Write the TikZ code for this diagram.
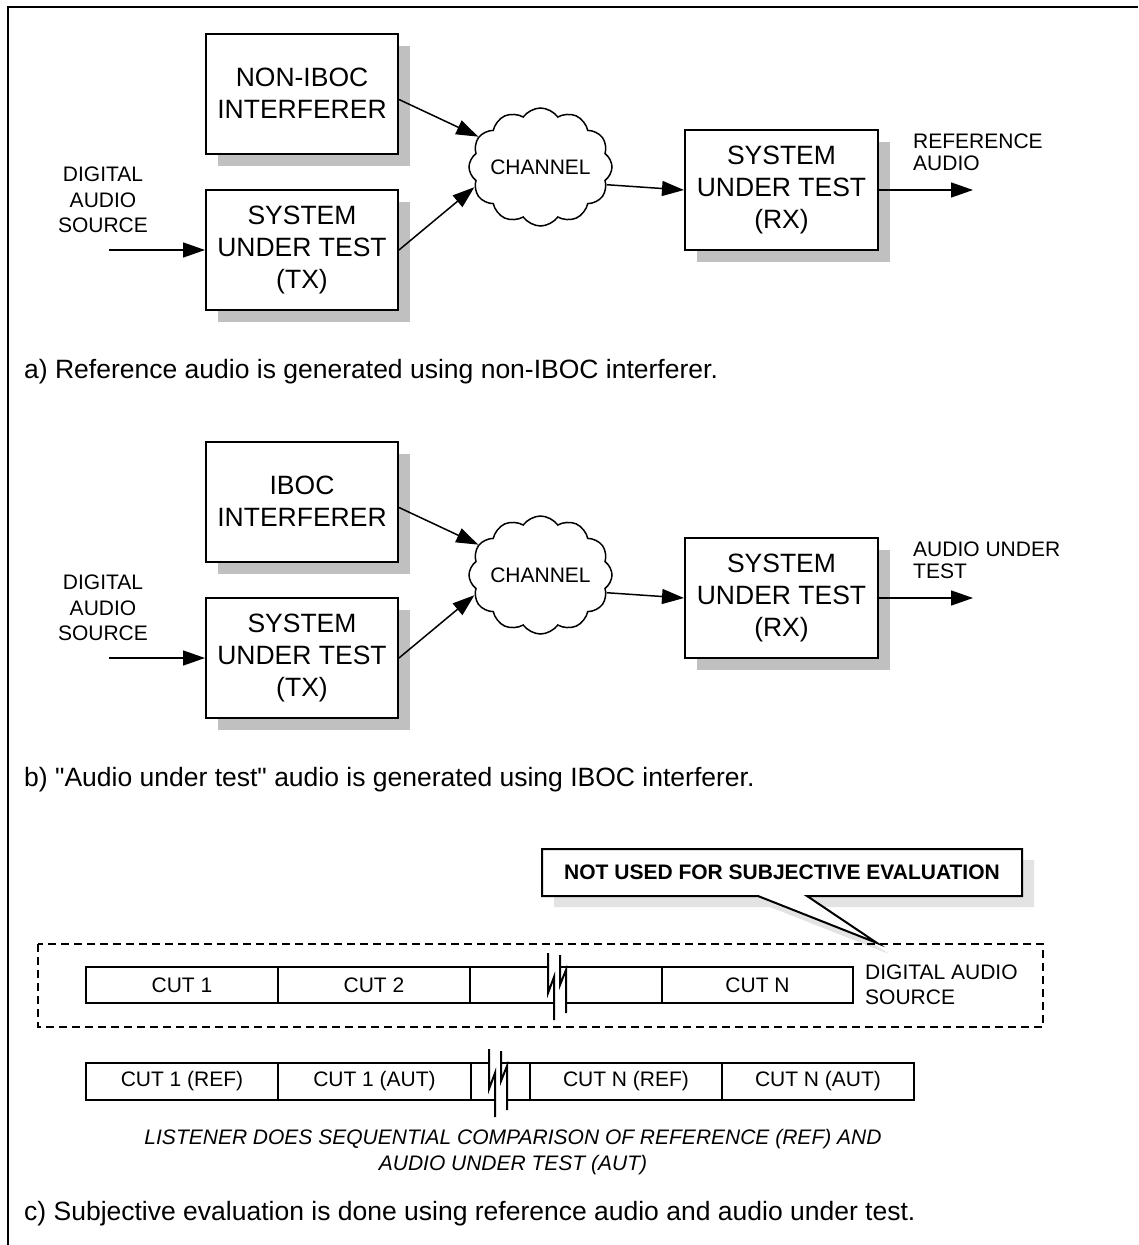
\documentclass[tikz,border=0pt]{standalone}
\usepackage{fontspec}
\setmainfont{Liberation Sans}[Ligatures=TeXOff]
\usetikzlibrary{arrows.meta,shapes.symbols,shadows}
\definecolor{shgray}{HTML}{C0C0C0}
\definecolor{callgray}{HTML}{E3E3E3}
\begin{document}
\begin{tikzpicture}[x=1pt,y=-1pt,
  blk/.style={draw, line width=2pt, fill=white, minimum width=192pt, minimum height=120pt,
    align=center, inner sep=0pt, font=\fontsize{26.5}{32}\selectfont,
    drop shadow={shadow xshift=12pt, shadow yshift=-12pt, fill=shgray, opacity=1}},
  chan/.style={cloud, draw, line width=1.5pt, fill=white, cloud puffs=12, cloud puff arc=110,
    cloud ignores aspect, minimum width=143pt, minimum height=118pt, inner sep=0pt,
    font=\fontsize{21}{25}\selectfont},
  lbl/.style={inner sep=0pt, font=\fontsize{21}{25.5}\selectfont},
  captxt/.style={inner sep=0pt, font=\fontsize{26.5}{30}\selectfont},
  arr/.style={line width=1.5pt, -{Triangle[length=22pt,width=15pt]}},
  cell/.style={draw, line width=2pt, minimum height=36pt, inner sep=0pt, font=\fontsize{21}{25}\selectfont},
  brkline/.style={line width=2pt}
]
\useasboundingbox (0,0) rectangle (1138,1245);
% frame
\draw[line width=2pt] (8,1245) -- (8,7) -- (1138,7);

% ---------- section a ----------
\node[blk] (nonib) at (302,93.5) {NON-IBOC\\INTERFERER};
\node[blk] (txa) at (302,250) {SYSTEM\\UNDER TEST\\(TX)};
\node[chan] (cha) at (540.5,167) {\makebox[0pt]{CHANNEL}};
\node[blk, minimum width=193pt] (rxa) at (781.5,190) {SYSTEM\\UNDER TEST\\(RX)};
\node[lbl, align=center] (srca) at (103,200) {DIGITAL\\AUDIO\\SOURCE};
\coordinate (ina) at (109,250);
\coordinate (outa) at (973,190);
\node[lbl, align=left, anchor=west, font=\fontsize{21}{22}\selectfont] (refa) at (913,152) {REFERENCE\\AUDIO};
\draw[arr] (ina) -- (txa.west);
\draw[arr] ([yshift=-6pt]nonib.east) -- (cha.154);
\draw[arr] (txa.east) -- (cha.197);
\draw[arr] (cha.-15) -- (rxa.west);
\draw[arr] (rxa.east) -- (outa);
\node[captxt, anchor=base west] (capa) at (24,378) {a) Reference audio is generated using non-IBOC interferer.};

% ---------- section b ----------
\node[blk] (ib) at (302,501.5) {IBOC\\INTERFERER};
\node[blk] (txb) at (302,658) {SYSTEM\\UNDER TEST\\(TX)};
\node[chan] (chb) at (540.5,575) {\makebox[0pt]{CHANNEL}};
\node[blk, minimum width=193pt] (rxb) at (781.5,598) {SYSTEM\\UNDER TEST\\(RX)};
\node[lbl, align=center] (srcb) at (103,608) {DIGITAL\\AUDIO\\SOURCE};
\coordinate (inb) at (109,658);
\coordinate (outb) at (973,598);
\node[lbl, align=left, anchor=west, font=\fontsize{21}{22}\selectfont] (autb) at (913,560) {AUDIO UNDER\\TEST};
\draw[arr] (inb) -- (txb.west);
\draw[arr] ([yshift=-6pt]ib.east) -- (chb.154);
\draw[arr] (txb.east) -- (chb.197);
\draw[arr] (chb.-15) -- (rxb.west);
\draw[arr] (rxb.east) -- (outb);
\node[captxt, anchor=base west] (capb) at (24,786) {b) "Audio under test" audio is generated using IBOC interferer.};

% ---------- section c ----------
% callout
\fill[callgray] (554,860) -- (1034,860) -- (1034,907) -- (819,907) -- (889,954) -- (770,907) -- (554,907) -- cycle;
\draw[line width=2pt, fill=white, line join=miter] (542,849) -- (1022,849) -- (1022,896) -- (807,896) -- (877,943) -- (758,896) -- (542,896) -- cycle;
\node[inner sep=0pt, font=\fontsize{21}{25}\selectfont\bfseries] (note) at (782,872.5) {NOT USED FOR SUBJECTIVE EVALUATION};

% dashed group
\draw[line width=1.5pt, dash pattern=on 8pt off 5pt] (38,944) rectangle (1043,1027);

% bar 1
\node[cell, minimum width=192pt] (c11) at (182,985) {CUT 1};
\node[cell, minimum width=192pt] (c12) at (374,985) {CUT 2};
\node[cell, minimum width=192pt] (c13) at (566,985) {};
\node[cell, minimum width=191pt] (c14) at (757.5,985) {CUT N};
\node[lbl, align=left, anchor=west] (srcc) at (865,985) {DIGITAL AUDIO\\SOURCE};
\begin{scope}[shift={(548,967)}]
  \fill[white] (0,-1.5) -- (12,-1.5) -- (12,18) -- (18,3) -- (18,37.5) -- (6,37.5) -- (6,10) -- (0,26) -- cycle;
  \draw[brkline] (0,-14) -- (0,26) -- (6,10) -- (6,53);
  \draw[brkline] (12,-12) -- (12,18) -- (18,3) -- (18,46);
\end{scope}

% bar 2
\node[cell, minimum width=192pt, minimum height=37pt] (c21) at (182,1081.5) {CUT 1 (REF)};
\node[cell, minimum width=193pt, minimum height=37pt] (c22) at (374.5,1081.5) {CUT 1 (AUT)};
\node[cell, minimum width=59pt, minimum height=37pt] (c23) at (500.5,1081.5) {};
\node[cell, minimum width=192pt, minimum height=37pt] (c24) at (626,1081.5) {CUT N (REF)};
\node[cell, minimum width=192pt, minimum height=37pt] (c25) at (818,1081.5) {CUT N (AUT)};
\begin{scope}[shift={(489,1063)}]
  \fill[white] (0,-1.5) -- (12,-1.5) -- (12,18) -- (18,3) -- (18,38.5) -- (6,38.5) -- (6,10) -- (0,26) -- cycle;
  \draw[brkline] (0,-14) -- (0,26) -- (6,10) -- (6,54);
  \draw[brkline] (12,-12) -- (12,18) -- (18,3) -- (18,47);
\end{scope}

\node[lbl, align=center, font=\fontsize{21}{26}\selectfont\itshape] (lis) at (513,1152) {LISTENER DOES SEQUENTIAL COMPARISON OF REFERENCE (REF) AND\\AUDIO UNDER TEST (AUT)};
\node[captxt, anchor=base west] (capc) at (24,1220) {c) Subjective evaluation is done using reference audio and audio under test.};
\end{tikzpicture}
\end{document}
